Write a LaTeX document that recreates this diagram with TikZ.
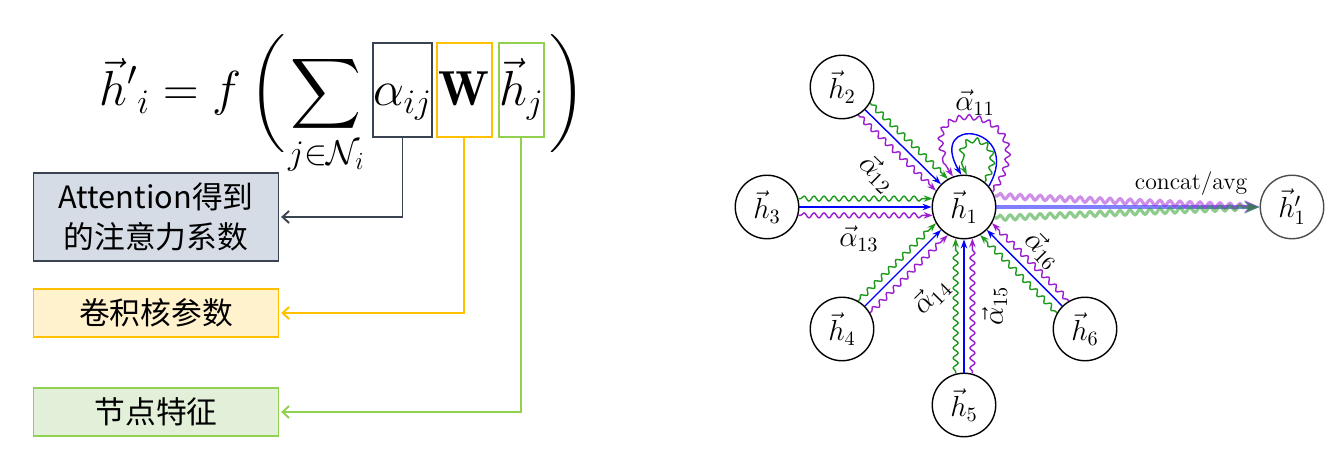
\RequirePackage{fix-cm}
\documentclass[tikz,border=0pt]{standalone}
\usepackage{amsmath}
\DeclareFontShape{OMX}{cmex}{m}{n}{<->cmex10}{}
\usepackage{fontspec}
\newfontfamily\cjkfont{Noto Sans CJK SC}
\usetikzlibrary{arrows.meta, positioning, decorations.pathmorphing}

\definecolor{attnline}{HTML}{3A4352}
\definecolor{attnfill}{HTML}{D6DCE5}
\definecolor{convline}{HTML}{FFC000}
\definecolor{convfill}{HTML}{FFF2CC}
\definecolor{featline}{HTML}{92D050}
\definecolor{featfill}{HTML}{E2F0D9}
\definecolor{edgegreen}{HTML}{1E9A1E}
\definecolor{edgepurple}{HTML}{9B1FD1}

\begin{document}
\begin{tikzpicture}[
            > = {Stealth[length = 1.8mm, width = 1.3mm]}, % arrow head style
            thick % line style
        ]

        \tikzstyle{hnode}=[
            draw = black,
            circle,
            thick,
            inner sep = 0pt,
            minimum size = 12.7mm,
            on grid,
            font = \fontsize{16.5}{19}\selectfont
        ]
        \tikzstyle{termbox}=[
            draw,
            line width = 1.1pt,
            inner sep = 0pt,
            text height = 12.6mm,
            text depth = 6.2mm,
            font = \fontsize{28}{32}\selectfont
        ]
        \tikzstyle{descbox}=[
            draw,
            line width = 1pt,
            inner sep = 0pt,
            minimum width = 49mm,
            align = center,
            font = \cjkfont\fontsize{17.5}{22.8}\selectfont
        ]
        \tikzstyle{link}=[
            line width = 1.1pt,
            shorten > = 1pt,
            -{Straight Barb[length = 1.3mm, width = 2.4mm]}
        ]
        \tikzstyle{wavy}=[
            decorate,
            decoration = {snake, segment length = 2mm, amplitude = 0.5mm,
                          pre length = 0.5mm, post length = 1.9mm}
        ]
        \tikzstyle{alabel}=[
            inner sep = 0pt,
            text = black,
            font = \fontsize{16.5}{19}\selectfont
        ]
        \tikzstyle{outedge}=[
            line width = 1.8pt,
            opacity = 0.5,
            -{Stealth[length = 3mm, width = 2.4mm]}
        ]

        \useasboundingbox (0, 0) rectangle (26.84, 9.48);

        % formula
        \node[termbox, draw = attnline, minimum width = 11mm, anchor = base] (alpha) at (8.05, 7.36) {$\alpha_{ij}$};
        \node[termbox, draw = convline, minimum width = 11mm] (wmat) [base right = 0.06cm of alpha] {$\mathbf{W}$};
        \node[termbox, draw = featline, minimum width = 9mm] (hj) [base right = 0.1cm of wmat] {$\vec{h}_j$};
        \node[inner sep = 0pt, font = \fontsize{28}{32}\selectfont] (lhs) [base left = 0.14cm of alpha]
            {$\displaystyle {\vec{h}'}{}_i = f\,\mathopen{\left(\vcenter to 62pt{}\right.}\sum_{j\in\mathcal{N}_i}$};
        \node[inner sep = 0pt, font = \fontsize{28}{32}\selectfont] (rpar) [base right = 0.04cm of hj]
            {$\mathclose{\left.\vcenter to 62pt{}\right)}$};

        % meaning of each term
        \node[descbox, draw = attnline, fill = attnfill, minimum height = 17.6mm] (attn) at (3.12, 5.14) {Attention得到\\的注意力系数};
        \node[descbox, draw = convline, fill = convfill, minimum height = 9.6mm] (conv) at (3.12, 3.22) {卷积核参数};
        \node[descbox, draw = featline, fill = featfill, minimum height = 9.6mm] (feat) at (3.12, 1.24) {节点特征};

        \draw[link, attnline] (alpha.south) |- (attn.east);
        \draw[link, convline] (wmat.south) |- (conv.east);
        \draw[link, featline] (hj.south) |- (feat.east);

        % graph
        \node[hnode] (h1) at (19.28, 5.34) {$\vec{h}_1$};
        \node[hnode] (h2) [above left = 2.4cm and 2.44cm of h1] {$\vec{h}_2$};
        \node[hnode] (h3) [left = 3.94cm of h1] {$\vec{h}_3$};
        \node[hnode] (h4) [below left = 2.44cm and 2.44cm of h1] {$\vec{h}_4$};
        \node[hnode] (h5) [below = 3.96cm of h1] {$\vec{h}_5$};
        \node[hnode] (h6) [below right = 2.44cm and 2.42cm of h1] {$\vec{h}_6$};
        \node[hnode, draw = black!70] (h1p) [right = 6.56cm of h1] {$\vec{h}'_1$};

        \path[->, blue] (h2) edge node[alabel, sloped, below = 0.47cm] (a12) {$\vec{\alpha}_{12}$} (h1);
        \path[->, edgegreen] (h2.-30) edge[wavy] (h1.120);
        \path[->, edgepurple] (h2.-60) edge[wavy] (h1.150);

        \path[->, blue] (h3) edge node[alabel, pos = 0.45, below = 0.37cm] (a13) {$\vec{\alpha}_{13}$} (h1);
        \path[->, edgegreen] (h3.15) edge[wavy] (h1.165);
        \path[->, edgepurple] (h3.-15) edge[wavy] (h1.195);

        \path[->, blue] (h4) edge node[alabel, sloped, below = 0.53cm] (a14) {$\vec{\alpha}_{14}$} (h1);
        \path[->, edgegreen] (h4.60) edge[wavy] (h1.210);
        \path[->, edgepurple] (h4.30) edge[wavy] (h1.240);

        \path[->, blue] (h5) edge node[alabel, sloped, below = 0.35cm] (a15) {$\vec{\alpha}_{15}$} (h1);
        \path[->, edgegreen] (h5.105) edge[wavy] (h1.255);
        \path[->, edgepurple] (h5.75) edge[wavy] (h1.285);

        \path[->, blue] (h6) edge node[alabel, sloped, above = 0.25cm] (a16) {$\vec{\alpha}_{16}$} (h1);
        \path[->, edgegreen] (h6.150) edge[wavy] (h1.300);
        \path[->, edgepurple] (h6.120) edge[wavy] (h1.330);

        % self loop
        \draw[->, blue] (h1.40) .. controls +(60:1.4cm) and +(120:1.4cm) .. (h1.95)
            node[alabel, pos = 0.5, above = 0.38cm] (a11) {$\vec{\alpha}_{11}$};
        \draw[->, edgegreen, wavy] (h1.50) .. controls +(60:1.1cm) and +(120:1.1cm) .. (h1.85);
        \draw[->, edgepurple, wavy] (h1.28) .. controls +(55:2.1cm) and +(125:2.1cm) .. (h1.110);

        % aggregation
        \draw[outedge, blue] (h1) -- (h1p)
            node[alabel, pos = 0.74, above = 0.2cm, font = \fontsize{13.5}{16}\selectfont, opacity = 1] (agg) {concat/avg};
        \draw[outedge, edgepurple, wavy, decoration = {post length = 3.2mm}] (h1.20) -- (h1p.west);
        \draw[outedge, edgegreen, wavy, decoration = {post length = 3.2mm}] (h1.-20) -- (h1p.west);

\end{tikzpicture}
\end{document}
